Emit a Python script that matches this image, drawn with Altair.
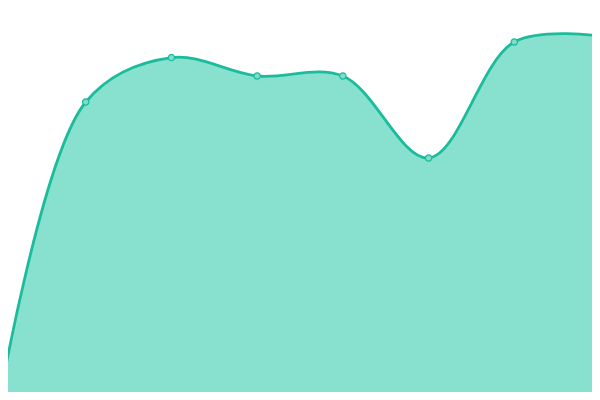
import altair as alt
import pandas as pd

# data
categories = [1, 2, 3, 4, 5, 6, 7, 8]
values = [0.5, 74.5, 85.6, 81.0, 81.0, 60.5, 89.5, 91.0]

df = pd.DataFrame({"x": categories, "v": values})

xs = alt.X("x:Q", scale=alt.Scale(domain=[1.0933, 7.9067], nice=False, zero=False), axis=None)
ys = alt.Y("v:Q", scale=alt.Scale(domain=[2, 98], nice=False, zero=False), axis=None)

area = alt.Chart(df).mark_area(
    interpolate="catmull-rom", fill="#88e0cf", fillOpacity=1, clip=True,
    line={"color": "#1abc9c", "strokeWidth": 2.8}
).encode(x=xs, y=ys, y2=alt.datum(0))

pts = alt.Chart(df).mark_point(
    filled=True, size=40, fill="#7fdcc9", stroke="#1abc9c", strokeWidth=1.2, opacity=1, clip=True
).encode(x=xs, y=ys)

chart = (area + pts).properties(
    width=584, height=384, padding=0, autosize=alt.AutoSizeParams(type="none")
).configure_view(stroke=None)

chart.save("out.html", embed_options={"renderer": "svg", "actions": False})
